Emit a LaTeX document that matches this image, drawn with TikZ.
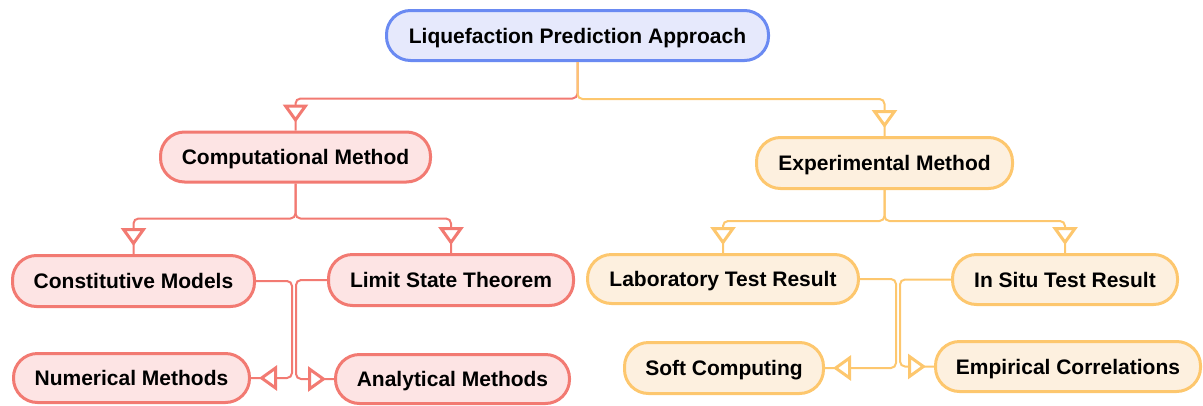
\documentclass[tikz,border=0pt]{standalone}
\usepackage{fontspec}
\setmainfont{Liberation Sans}
\usetikzlibrary{arrows.meta,decorations.markings}
\definecolor{blueB}{HTML}{6A8AF2}
\definecolor{blueF}{HTML}{E6E9FC}
\definecolor{redB}{HTML}{F27A72}
\definecolor{redF}{HTML}{FDE4E4}
\definecolor{orB}{HTML}{FDC76E}
\definecolor{orF}{HTML}{FDF0DF}
\tikzset{
  box/.style={rectangle, rounded corners=24pt, line width=3pt, inner sep=0pt,
    text height=15pt, text depth=0pt,
    font=\fontsize{21}{25}\selectfont\bfseries, text=black},
  bluebox/.style={box, draw=blueB, fill=blueF},
  redbox/.style={box, draw=redB, fill=redF},
  orbox/.style={box, draw=orB, fill=orF},
  conn/.style={line width=2pt, rounded corners=5pt,
    postaction={decorate, decoration={markings,
      mark=at position -8pt with {\arrow{Triangle[length=18pt,width=25pt,fill=white,line width=3pt]}}}}},
  redline/.style={conn, draw=redB},
  orline/.style={conn, draw=orB},
}
\begin{document}
\begin{tikzpicture}[x=1pt,y=-1pt]
\useasboundingbox (0,0) rectangle (1203,405);
\node[bluebox, minimum width=382pt, minimum height=50pt] (top) at (577.5,35.5) {Liquefaction Prediction Approach};
\node[redbox, minimum width=270pt, minimum height=50pt] (comp) at (295.5,157) {Computational Method};
\node[orbox, minimum width=256pt, minimum height=51pt] (exp) at (884.5,163) {Experimental Method};
\node[redbox, minimum width=242pt, minimum height=51pt] (cons) at (133.5,281) {Constitutive Models};
\node[redbox, minimum width=245pt, minimum height=51pt] (limit) at (451,280) {Limit State Theorem};
\node[orbox, minimum width=271pt, minimum height=49pt] (lab) at (723,279) {Laboratory Test Result};
\node[orbox, minimum width=225pt, minimum height=50pt] (insitu) at (1065,279.5) {In Situ Test Result};
\node[redbox, minimum width=236pt, minimum height=49pt] (num) at (131.5,378) {Numerical Methods};
\node[redbox, minimum width=234pt, minimum height=49pt] (anal) at (452.5,379) {Analytical Methods};
\node[orbox, minimum width=199pt, minimum height=51pt] (soft) at (724,368) {Soft Computing};
\node[orbox, minimum width=265pt, minimum height=50pt] (emp) at (1068,366.5) {Empirical Correlations};
\coordinate (v1) at (292,0);
\coordinate (v2) at (296,0);
\coordinate (v3) at (896,0);
\coordinate (v4) at (900,0);
\draw[redline] (top.south) -- ++(0,36.5) -| (comp.north);
\draw[orline] (top.south) -- ++(0,37) -| (exp.north);
\draw[redline] (comp.south) -- ++(0,35) -| (cons.north);
\draw[redline] (comp.south) -- ++(0,35) -| (limit.north);
\draw[orline] (exp.south) -- ++(0,31) -| (lab.north);
\draw[orline] (exp.south) -- ++(0,31) -| (insitu.north);
\draw[redline] (cons.east) -- (cons.east -| v1) |- (num.east);
\draw[redline] (limit.west) -- (limit.west -| v2) |- (anal.west);
\draw[orline] (lab.east) -- (lab.east -| v3) |- (soft.east);
\draw[orline] (insitu.west) -- (insitu.west -| v4) |- (emp.west);
\end{tikzpicture}
\end{document}
